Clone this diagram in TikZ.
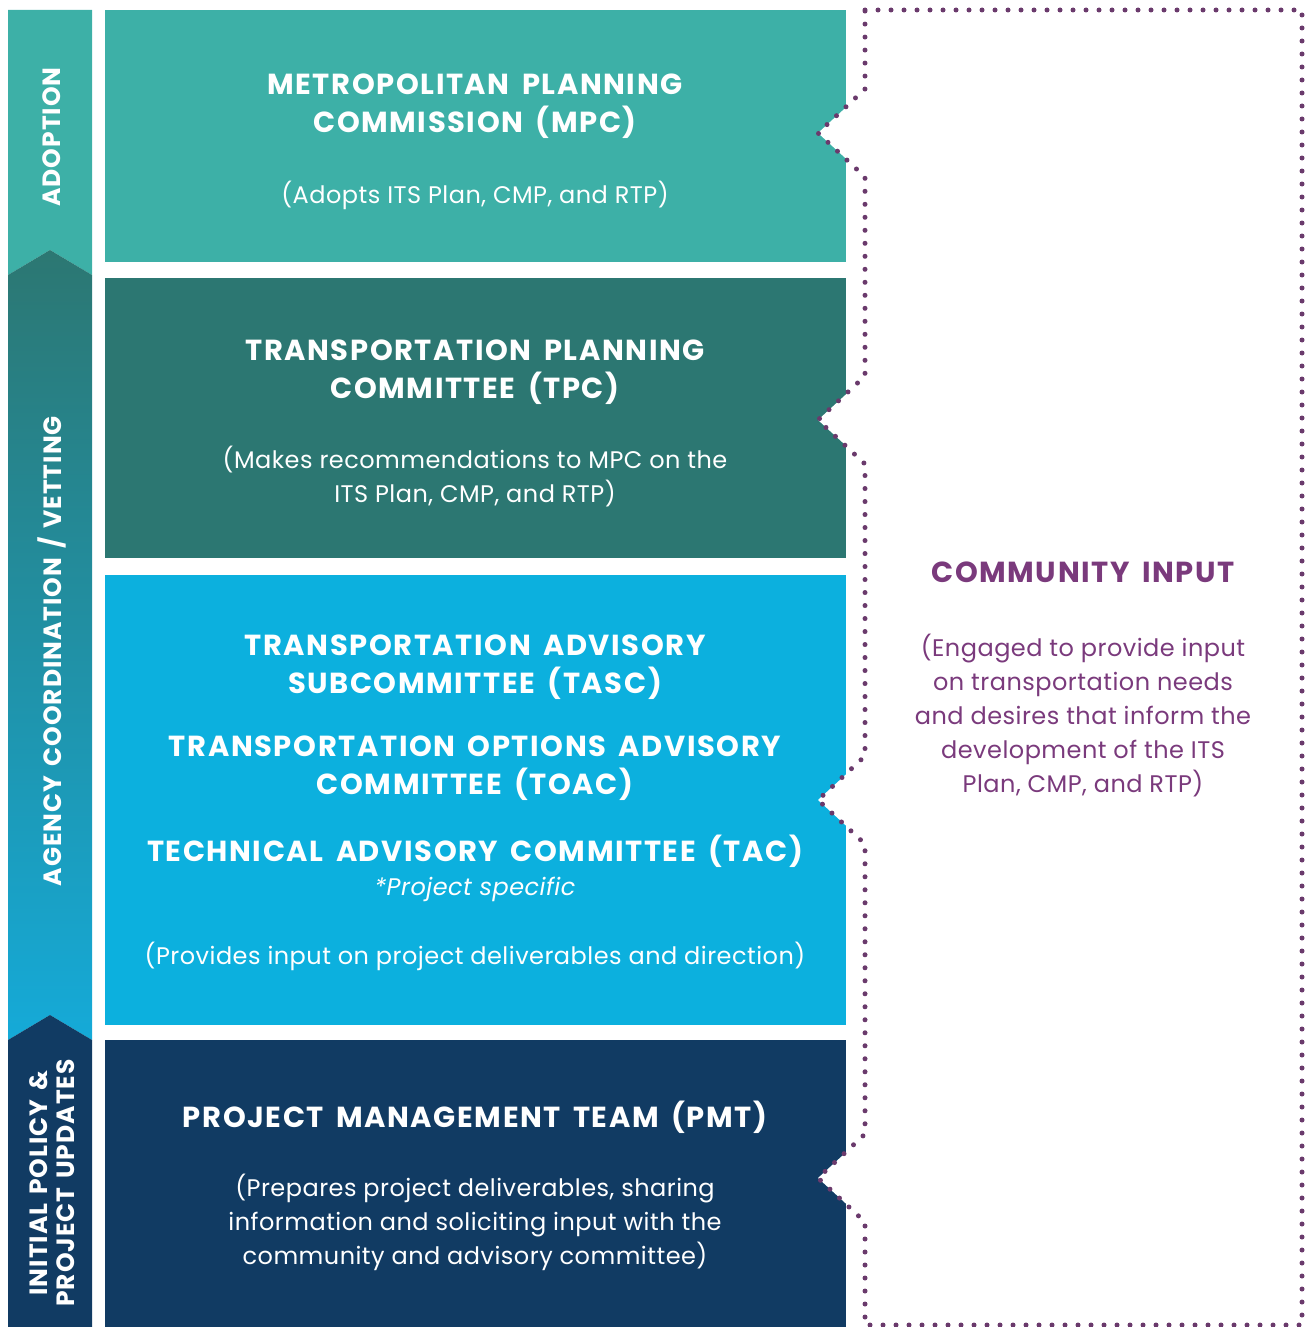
\documentclass[tikz,border=0pt]{standalone}
\usepackage{fontspec}
\setmainfont{Poppins}[LetterSpace=2.0]
\newfontfamily\headfont{Poppins}[LetterSpace=5.5, WordSpace=1.6]
\newfontfamily\sidefont{Poppins}[LetterSpace=4.0, WordSpace=1.4]
\usetikzlibrary{positioning}

\definecolor{mpcteal}{HTML}{3DB0A7}
\definecolor{tpcteal}{HTML}{2C7772}
\definecolor{tascblue}{HTML}{0CB0DE}
\definecolor{pmtnavy}{HTML}{113B63}
\definecolor{barblue}{HTML}{15AAD8}
\definecolor{dotpurple}{HTML}{6A3A6C}
\definecolor{textpurple}{HTML}{7A3A7C}

\tikzset{
    panel/.style={inner sep=0pt, minimum width=741pt, anchor=north west},
    boxtitle/.style={text=white, align=center, inner sep=0pt, font=\headfont\bfseries\fontsize{29}{38}\selectfont},
    boxnote/.style={text=white, align=center, inner sep=0pt, font=\fontsize{24}{34}\selectfont},
    sidelabel/.style={text=white, rotate=90, align=center, inner sep=0pt, font=\sidefont\bfseries\fontsize{25}{27}\selectfont},
    dotline/.style={dotpurple, line width=5pt, line cap=round, dash pattern=on 0pt off 13pt},
}

\begin{document}
\begin{tikzpicture}[x=1pt, y=-1pt]
    \useasboundingbox (0,0) rectangle (1304,1327);

    % committee panels
    \node[panel, fill=mpcteal, minimum height=252pt] (mpc) at (105,10) {};
    \node[panel, fill=tpcteal, minimum height=280pt] (tpc) at (105,278) {};
    \node[panel, fill=tascblue, minimum height=450pt] (tasc) at (105,575) {};
    \node[panel, fill=pmtnavy, minimum height=287pt] (pmt) at (105,1040) {};

    % left bar
    \fill[mpcteal] (8,10) -- (92,10) -- (92,275) -- (50,250) -- (8,275) -- cycle;
    \shade[top color=tpcteal, bottom color=barblue] (8,275) -- (50,250) -- (92,275) -- (92,1040) -- (50,1015) -- (8,1040) -- cycle;
    \fill[pmtnavy] (8,1040) -- (50,1015) -- (92,1040) -- (92,1327) -- (8,1327) -- cycle;

    \node[sidelabel] (adoption) at (52,137) {ADOPTION};
    \node[sidelabel] (vetting) at (52,651) {AGENCY COORDINATION / VETTING};
    \node[sidelabel] (initial) at (52,1183) {INITIAL POLICY \&\\PROJECT UPDATES};

    % community input bracket
    \foreach \ny in {133,420,800,1178}
        \fill[white] (866,\ny-44) -- (818,\ny) -- (866,\ny+44) -- cycle;
    \draw[dotline] (865,10) -- (1302,10) -- (1302,1325) -- (865,1325) -- (865,1222) -- (818,1178) -- (865,1134)
        -- (865,844) -- (818,800) -- (865,756) -- (865,464) -- (818,420) -- (865,376)
        -- (865,177) -- (818,133) -- (865,89) -- cycle;

    % panel texts
    \node[boxtitle] (mpctitle) at (475,106) {METROPOLITAN PLANNING\\COMMISSION (MPC)};
    \node[boxnote] (mpcnote) at (475,195) {(Adopts ITS Plan, CMP, and RTP)};

    \node[boxtitle] (tpctitle) at (475,372) {TRANSPORTATION PLANNING\\COMMITTEE (TPC)};
    \node[boxnote] (tpcnote) at (475,477) {(Makes recommendations to MPC on the\\ITS Plan, CMP, and RTP)};

    \node[boxtitle] (tasctitle) at (475,667) {TRANSPORTATION ADVISORY\\SUBCOMMITTEE (TASC)};
    \node[boxtitle] (toactitle) at (475,768) {TRANSPORTATION OPTIONS ADVISORY\\COMMITTEE (TOAC)};
    \node[boxtitle] (tactitle) at (475,851) {TECHNICAL ADVISORY COMMITTEE (TAC)};
    \node[boxnote, font=\itshape\fontsize{24}{34}\selectfont] (tacspecific) at (475,889) {*Project specific};
    \node[boxnote] (tascnote) at (475,956) {(Provides input on project deliverables and direction)};

    \node[boxtitle] (pmttitle) at (475,1117) {PROJECT MANAGEMENT TEAM (PMT)};
    \node[boxnote] (pmtnote) at (475,1222) {(Prepares project deliverables, sharing\\information and soliciting input with the\\community and advisory committee)};

    \node[boxtitle, text=textpurple] (commtitle) at (1083,572) {COMMUNITY INPUT};
    \node[boxnote, text=textpurple] (commnote) at (1083,716) {(Engaged to provide input\\on transportation needs\\and desires that inform the\\development of the ITS\\Plan, CMP, and RTP)};
\end{tikzpicture}
\end{document}
